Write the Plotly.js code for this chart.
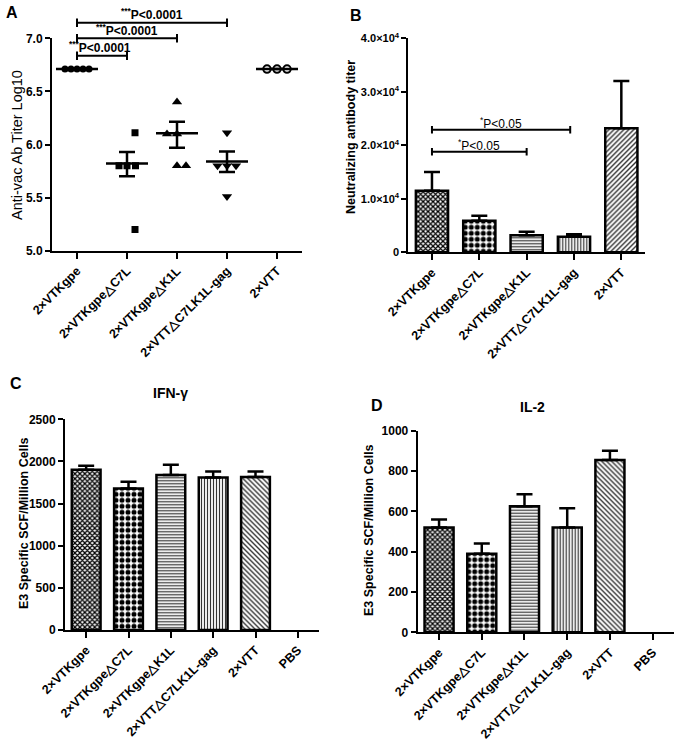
<!DOCTYPE html>
<html><head><meta charset="utf-8">
<script src="https://cdn.plot.ly/plotly-3.0.1.min.js"></script>
<style>html,body{margin:0;padding:0;background:#fff}#chart{width:683px;height:747px}</style>
</head><body><div id="chart"></div>
<script>
// ---------- DATA ----------
const catsAB = ['2×VTKgpe','2×VTKgpe△C7L','2×VTKgpe△K1L','2×VTT△C7LK1L-gag','2×VTT'];
const catsCD = ['2×VTKgpe','2×VTKgpe△C7L','2×VTKgpe△K1L','2×VTT△C7LK1L-gag','2×VTT','PBS'];

// Panel A: individual log10 titers per group (with beeswarm offsets)
const ptsA0 = [6.71,6.71,6.71,6.71,6.71];
const offA0 = [-0.24,-0.12,0,0.12,0.24];
const ptsA1 = [6.11,5.80,5.80,5.80,5.20];
const offA1 = [0.16,-0.16,0,0.17,0.16];
const ptsA2 = [6.40,6.10,6.10,5.80,5.80];
const offA2 = [0,-0.2,0,0,0.18];
const ptsA3 = [6.11,5.80,5.80,5.80,5.51];
const offA3 = [0,-0.19,0,0.18,0];
const ptsA4 = [6.71,6.71,6.71];
const offA4 = [-0.2,0,0.2];
const meanA = [6.71,5.82,6.105,5.84,6.71];
const semHiA = [6.71,5.93,6.215,5.935,6.71];
const semLoA = [6.71,5.70,5.97,5.74,6.71];
const sigA_from = [0,0,0];
const sigA_to = [3,2,1];
const sigA_y = [7.147,7.0,6.836];
const sigA_label = ['***P<0.0001','***P<0.0001','***P<0.0001'];

// Panel B: neutralizing antibody titer
const valB = [11500,5900,3200,2900,23200];
const errTopB = [15000,6850,3850,3360,32000];
const sigB_from = [0,0];
const sigB_to = [2.92,2];
const sigB_y = [22900,18800];
const sigB_label = ['*P<0.05','*P<0.05'];

// Panel C: IFN-γ
const valC = [1900,1680,1840,1810,1815,0];
const errTopC = [1950,1760,1960,1880,1880,0];

// Panel D: IL-2
const valD = [520,390,625,520,855,0];
const errTopD = [560,440,685,615,900,0];

// ---------- LAYOUT HELPERS ----------
const W = 683, H = 747;
const FONT = 'Liberation Sans, Arial, sans-serif';
const px = v => v / W;
const py = v => 1 - v / H;
const dom = {
  A: {x:[52,302], y:[38.3,250.7]},
  B: {x:[408.3,645], y:[38.3,252.3]},
  C: {x:[65,319], y:[419.3,630]},
  D: {x:[417.7,674], y:[430.7,632.3]}
};
const overlayTopA = 4; // px; hidden overlay subplot so the brackets can sit above the axis

function xAx(d, n, labels, anchor) {
  return {domain:[px(d.x[0]), px(d.x[1])], range:[-0.5, n-0.5], anchor:anchor,
    tickvals: labels.map((_,i)=>i), ticktext: labels, tickangle:-45,
    showline:true, linecolor:'#000', linewidth:2, ticks:'outside', ticklen:6, tickwidth:2, tickcolor:'#000',
    showgrid:false, zeroline:false, fixedrange:true,
    tickfont:{family:FONT, size:12.5, color:'#000', weight:'bold'}};
}
function yAx(d, range, tv, tt, anchor, fs) {
  return {domain:[py(d.y[1]), py(d.y[0])], range:range, anchor:anchor,
    tickvals: tv, ticktext: tt,
    showline:true, linecolor:'#000', linewidth:2, ticks:'outside', ticklen:5, tickwidth:2, tickcolor:'#000',
    showgrid:false, zeroline:false, fixedrange:true,
    tickfont:{family:FONT, size:fs || 12, color:'#000', weight:'bold'}};
}

const patShapes = ['x','.','-','|','\\','-'];
const patSizes = [3.5,6,3,3,3.5,3];
const patSol = [0.6,0.55,0.4,0.4,0.4,0.4];
const patFg = ['#000','#000','#333','#333','#333','#333'];

function barTrace(vals, tops, n, xa, ya, diag) {
  const shapes = patShapes.slice(0,n); shapes[4] = diag;
  return {type:'bar', x: vals.map((_,i)=>i), y: vals.map(v => v > 0 ? v : null), xaxis:xa, yaxis:ya, width:0.68,
    marker:{color:'#fff', line:{color:'#000', width:2.5},
      pattern:{shape:shapes, size:patSizes.slice(0,n), solidity:patSol.slice(0,n), fgcolor:patFg.slice(0,n), bgcolor:'#fff', fillmode:'replace'}},
    error_y:{type:'data', symmetric:false, array: tops.map((t,i)=> vals[i] > 0 ? t-vals[i] : NaN), arrayminus: vals.map(()=>0),
      color:'#000', thickness:2.5, width:8},
    showlegend:false, hoverinfo:'skip'};
}

function bracketTrace(from, to, ys, tick, xa, ya) {
  const x = [], y = [];
  for (let i=0;i<from.length;i++){
    x.push(from[i], from[i], null, from[i], to[i], null, to[i], to[i], null);
    y.push(ys[i]-tick, ys[i]+tick, null, ys[i], ys[i], null, ys[i]-tick, ys[i]+tick, null);
  }
  return {type:'scatter', mode:'lines', x:x, y:y, xaxis:xa, yaxis:ya, line:{color:'#000', width:2}, showlegend:false, hoverinfo:'skip'};
}

// ---------- TRACES ----------
const traces = [];
traces.push({type:'scatter', x:[], y:[], xaxis:'x', yaxis:'y', showlegend:false});
const groups = [[ptsA0,offA0,'circle'],[ptsA1,offA1,'square'],[ptsA2,offA2,'triangle-up'],[ptsA3,offA3,'triangle-down'],[ptsA4,offA4,'circle-open']];
groups.forEach((g,gi)=>{
  traces.push({type:'scatter', mode:'markers', x:g[0].map((_,i)=>gi+g[1][i]), y:g[0], xaxis:'x5', yaxis:'y5',
    marker:{symbol:g[2], size: g[2].startsWith('triangle')?9:(g[2]==='circle-open'?7.5:7), color:'#000', line:{color:'#000', width: g[2]==='circle-open'?2:0}},
    showlegend:false, hoverinfo:'skip'});
});
traces.push({type:'scatter', mode:'markers', x:meanA.map((_,i)=>i), y:meanA, xaxis:'x5', yaxis:'y5',
  marker:{symbol:'line-ew', size:30, color:'#000', line:{color:'#000', width:2.5}},
  error_y:{type:'data', symmetric:false, array: semHiA.map((v,i)=>v-meanA[i]), arrayminus: semLoA.map((v,i)=>meanA[i]-v),
    color:'#000', thickness:2.5, width:8},
  showlegend:false, hoverinfo:'skip'});
traces.push(bracketTrace(sigA_from, sigA_to, sigA_y, 0.04, 'x5', 'y5'));

traces.push(barTrace(valB, errTopB, 5, 'x2', 'y2', '/'));
traces.push(bracketTrace(sigB_from, sigB_to, sigB_y, 700, 'x2', 'y2'));
traces.push(barTrace(valC, errTopC, 6, 'x3', 'y3', '\\'));
traces.push(barTrace(valD, errTopD, 6, 'x4', 'y4', '\\'));

// ---------- LAYOUT ----------
const aUnitsPerPx = 2 / (dom.A.y[1] - dom.A.y[0]);
const layout = {
  width:W, height:H, margin:{l:0,r:0,t:0,b:0}, paper_bgcolor:'#fff', plot_bgcolor:'rgba(0,0,0,0)',
  showlegend:false,
  font:{family:FONT, color:'#000'},
  xaxis: xAx(dom.A, 5, catsAB, 'y'),
  yaxis: yAx(dom.A, [5,7], [5,5.5,6,6.5,7], ['5.0','5.5','6.0','6.5','7.0'], 'x'),
  xaxis2: xAx(dom.B, 5, catsAB, 'y2'),
  yaxis2: yAx(dom.B, [0,40000], [0,10000,20000,30000,40000], ['0','1.0×10<sup>4</sup>','2.0×10<sup>4</sup>','3.0×10<sup>4</sup>','4.0×10<sup>4</sup>'], 'x2', 11),
  xaxis3: xAx(dom.C, 6, catsCD, 'y3'),
  yaxis3: yAx(dom.C, [0,2500], [0,500,1000,1500,2000,2500], ['0','500','1000','1500','2000','2500'], 'x3'),
  xaxis4: xAx(dom.D, 6, catsCD, 'y4'),
  yaxis4: yAx(dom.D, [0,1000], [0,200,400,600,800,1000], ['0','200','400','600','800','1000'], 'x4'),
  xaxis5: {domain:[px(dom.A.x[0]), px(dom.A.x[1])], range:[-0.5,4.5], visible:false, anchor:'y5', fixedrange:true},
  yaxis5: {domain:[py(dom.A.y[1]), py(overlayTopA)], range:[5, 7 + (dom.A.y[0]-overlayTopA)*aUnitsPerPx], visible:false, anchor:'x5', fixedrange:true},
  annotations: []
};
const ann = layout.annotations;
function txt(x, y, text, size, opts) {
  ann.push(Object.assign({xref:'paper', yref:'paper', x:px(x), y:py(y), text:text, showarrow:false,
    xanchor:'center', yanchor:'middle', font:{family:FONT, size:size, color:'#000'}}, opts||{}));
}
const esc = s => s.replace(/</g,'&lt;');
sigA_label.forEach((l,i)=>{
  const cx = [1.5, 1.0, 0.46][i];
  const m = l.match(/^(\*+)(.*)$/);
  ann.push({xref:'x5', yref:'y5', x:cx, y:sigA_y[i] + 0.078, text:'<sup>'+m[1]+'</sup>'+esc(m[2]), showarrow:false,
    xanchor:'center', yanchor:'middle', font:{family:FONT, size:12, color:'#000', weight:'bold'}});
});
sigB_label.forEach((l,i)=>{
  const cx = [1.455, 1.0][i];
  const m = l.match(/^(\*+)(.*)$/);
  ann.push({xref:'x2', yref:'y2', x:cx, y:sigB_y[i] + 1350, text:'<sup>'+m[1]+'</sup>'+esc(m[2]), showarrow:false,
    xanchor:'center', yanchor:'middle', font:{family:FONT, size:12, color:'#000'}});
});
const bold = s => ({family:FONT, size:s, color:'#000', weight:'bold'});
txt(12, 13, 'A', 16, {font:bold(16)});
txt(356, 15, 'B', 16, {font:bold(16)});
txt(16, 383, 'C', 16, {font:bold(16)});
txt(377, 405, 'D', 16, {font:bold(16)});
txt(170, 393, 'IFN-γ', 14, {font:bold(14)});
txt(532, 407, 'IL-2', 14, {font:bold(14)});
txt(17, 145, 'Anti-vac Ab Titer Log10', 14.5, {textangle:-90});
txt(351, 137, 'Neutralizing antibody titer', 12.5, {textangle:-90, font:bold(12.5)});
txt(24, 523, 'E3 Specific SCF/Million Cells', 12.5, {textangle:-90, font:bold(12.5)});
txt(369, 530, 'E3 Specific SCF/Million Cells', 12.5, {textangle:-90, font:bold(12.5)});

Plotly.newPlot('chart', traces, layout, {staticPlot:true, displayModeBar:false});
</script></body></html>
